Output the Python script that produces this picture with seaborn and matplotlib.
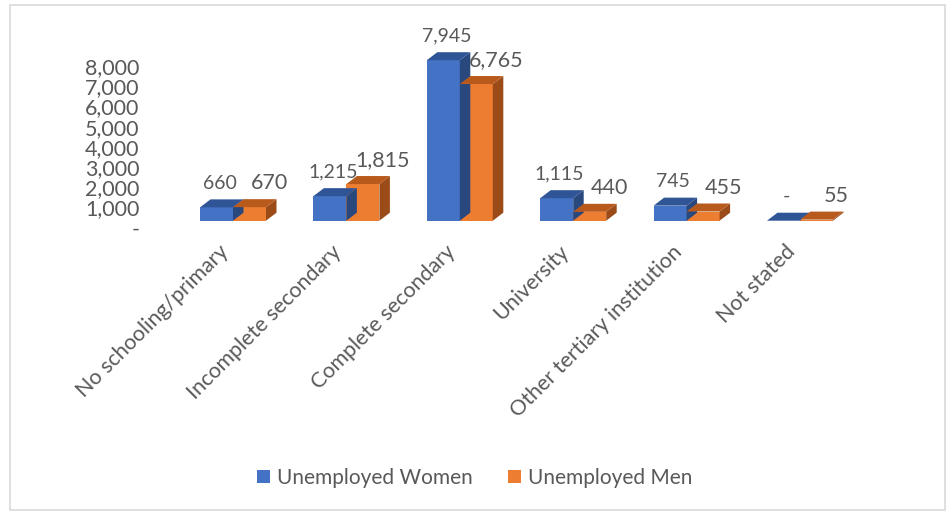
import pandas as pd
import numpy as np
import matplotlib
matplotlib.use("Agg")
import matplotlib.pyplot as plt
import matplotlib.transforms as mtransforms
from matplotlib.patches import Polygon, Rectangle, Patch
import seaborn as sns

categories = ["No schooling/primary", "Incomplete secondary", "Complete secondary",
              "University", "Other tertiary institution", "Not stated"]
women = [660, 1215, 7945, 1115, 745, 0]
men = [670, 1815, 6765, 440, 455, 55]
series = ["Unemployed Women", "Unemployed Men"]
yticks = [0, 1000, 2000, 3000, 4000, 5000, 6000, 7000, 8000]

front = {"Unemployed Women": "#4472C4", "Unemployed Men": "#ED7D31"}
top = {"Unemployed Women": "#2F5597", "Unemployed Men": "#B85A1C"}
side = {"Unemployed Women": "#29487E", "Unemployed Men": "#9A4B18"}
txt = "#595959"

df = pd.DataFrame({
    "Category": categories * 2,
    "Value": women + men,
    "Series": [series[0]] * len(categories) + [series[1]] * len(categories),
})

sns.set_style("white")
plt.rcParams["font.family"] = ["Lato", "DejaVu Sans"]

W, H = 948, 513
fig = plt.figure(figsize=(W / 100, H / 100), dpi=100)
# axes placed in pixel terms: x from 176 to 857, y base at 220.7 and top at 30
ax = fig.add_axes([176.3 / W, 1 - 220.7 / H, 680.4 / W, 190.7 / H])
sns.barplot(data=df, x="Category", y="Value", hue="Series", palette=front,
            width=0.582, saturation=1, legend=False, ax=ax, edgecolor="none")
ax.set_xlim(-0.5, len(categories) - 0.5)
ymax = 190.7 / 20.2 * 1000
ax.set_ylim(0, ymax)
ax.set_xlabel("")
ax.set_ylabel("")
sns.despine(ax=ax, left=True, bottom=True)

def px(dx, dy):
    # offset in screen pixels (dpi=100)
    return mtransforms.ScaledTranslation(dx / 100, dy / 100, fig.dpi_scale_trans)

# fake 3D depth: top and side faces
dxp, dyp = 10.5, 8.0
to_disp = ax.transData
to_data = ax.transData.inverted()
for container, name in zip(ax.containers, series):
    for bar in container:
        x0 = bar.get_x()
        x1 = x0 + bar.get_width()
        h = bar.get_height()
        (px0, py0), (px1, py1) = to_disp.transform([(x0, 0), (x1, h)])
        top_pts = [(px0, py1), (px1, py1), (px1 + dxp, py1 + dyp), (px0 + dxp, py1 + dyp)]
        side_pts = [(px1, py0), (px1 + dxp, py0 + dyp), (px1 + dxp, py1 + dyp), (px1, py1)]
        ax.add_patch(Polygon(to_data.transform(side_pts), closed=True,
                             facecolor=side[name], edgecolor="none", clip_on=False))
        ax.add_patch(Polygon(to_data.transform(top_pts), closed=True,
                             facecolor=top[name], edgecolor="none", clip_on=False))

# data labels
for container, name in zip(ax.containers, series):
    shift = 3 if name == series[0] else 20
    size = 14 if name == series[0] else 15.5
    for bar in container:
        h = bar.get_height()
        lab = "-" if h == 0 else f"{h:,.0f}"
        ax.text(bar.get_x() + bar.get_width() / 2, h, lab, transform=ax.transData + px(shift, 24),
                ha="center", va="center", fontsize=size, color=txt, clip_on=False)

# axis labels drawn as text so they can sit where the 3D chart puts them
ax.set_yticks([])
ax.set_xticks([])
ytrans = mtransforms.blended_transform_factory(ax.transAxes, ax.transData)
for v in yticks:
    ax.text(0, v, "-" if v == 0 else f"{v:,}", transform=ytrans + px(-37, -9),
            ha="right", va="center", fontsize=15.5, color=txt, clip_on=False)
for i, cat in enumerate(categories):
    ax.text(i, 0, cat, transform=ax.transData + px(-8, -28), rotation=45,
            ha="right", va="center", rotation_mode="anchor",
            fontsize=15.5, color=txt, clip_on=False)

handles = [Patch(facecolor=front[s], edgecolor="none", label=s) for s in series]
fig.legend(handles=handles, loc="center", bbox_to_anchor=(475 / W, 1 - 478 / H), ncol=2,
           frameon=False, fontsize=15, labelcolor=txt, handlelength=0.6, handleheight=0.6,
           handletextpad=0.35, columnspacing=1.7)

fig.patches.append(Rectangle((10 / W, 3 / H), 935 / W, 505 / H, transform=fig.transFigure,
                             facecolor="none", edgecolor="#D9D9D9", linewidth=1.2))

fig.savefig("out.png", dpi=100)
